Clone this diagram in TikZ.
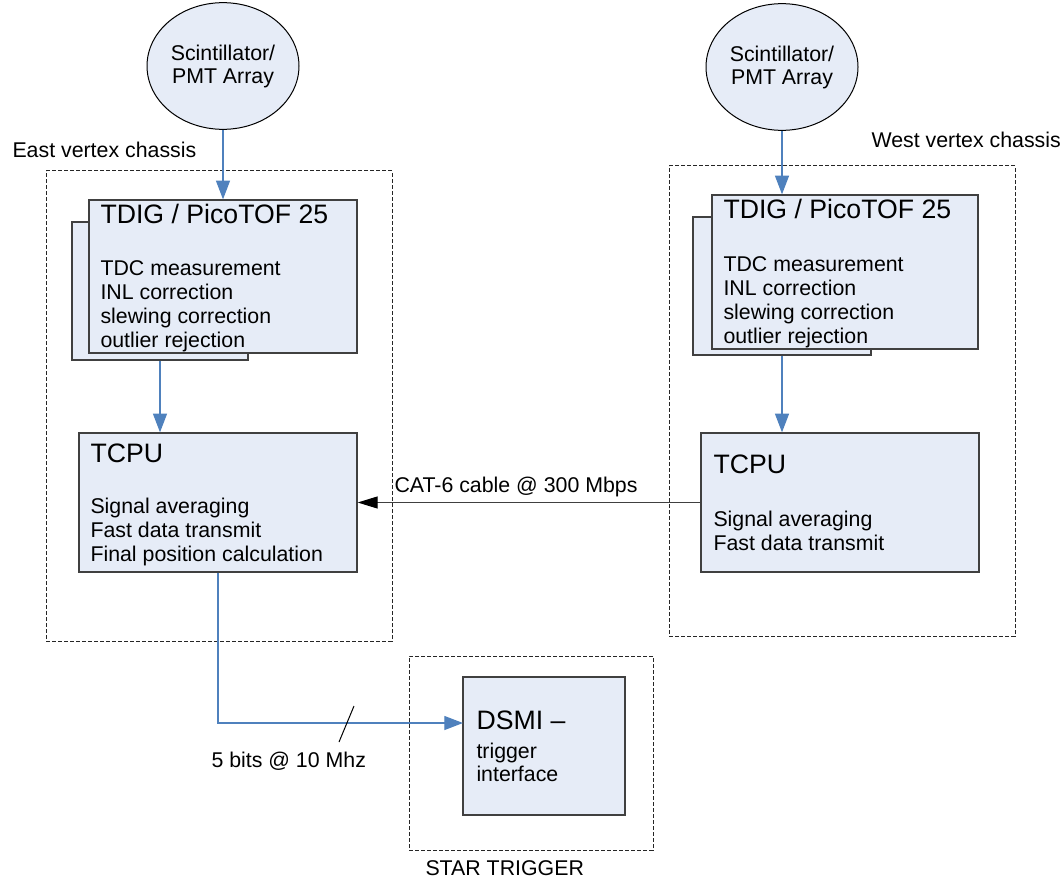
\documentclass[tikz,border=0pt]{standalone}
\usepackage{fontspec}
\setmainfont{Liberation Sans}
\usetikzlibrary{arrows.meta,fit,shapes.geometric}

\definecolor{boxfill}{RGB}{230,236,247}
\definecolor{boxline}{RGB}{64,64,64}
\definecolor{linkblue}{RGB}{79,129,189}

\tikzset{every picture/.style={line width=0.75pt}}
\tikzset{
  blockbox/.style={draw=boxline,fill=boxfill,line width=1pt,inner sep=0pt},
  chassis/.style={draw=black!85,dash pattern=on 3pt off 1.5pt,inner sep=0pt},
  sensor/.style={ellipse,draw=black,fill=boxfill,minimum width=114pt,minimum height=95pt,inner sep=0pt,align=center,font=\fontsize{16}{17.25}\selectfont},
  titletxt/.style={anchor=base west,inner sep=0pt,font=\fontsize{20}{24}\selectfont},
  bodytxt/.style={anchor=north west,inner sep=0pt,align=left,font=\fontsize{16}{18}\selectfont},
  labeltxt/.style={anchor=base west,inner sep=0pt,font=\fontsize{16}{18}\selectfont},
  bluelink/.style={draw=linkblue,line width=0.9pt,-{Triangle[length=14pt,width=10.5pt]}},
  cablelink/.style={draw=boxline,line width=0.9pt,-{Triangle[length=15pt,width=9pt,color=black]}}
}

\begin{document}
\begin{tikzpicture}[x=0.75pt,y=0.75pt,yscale=-1,xscale=1]
\useasboundingbox (0,0) rectangle (1063,888);

%Shape: Dashed chassis
\node[chassis, fit={(46,171)(392,641)}] (eastChassis) {};
\node[chassis, fit={(669,166)(1015,636)}] (westChassis) {};
\node[chassis, fit={(409,656)(653,850)}] (starChassis) {};

%Shape: Ellipse
\node[sensor] (sciE) at (223,66) {Scintillator/\\PMT Array};
\node[sensor] (sciW) at (782,67) {Scintillator/\\PMT Array};

%Shape: Rectangle (stacked boards)
\node[blockbox, fit={(72,222)(248,360)}] (tdigEback) {};
\node[blockbox, fit={(89,200)(357,353)}] (tdigE) {};
\node[blockbox, fit={(693,217)(871,355)}] (tdigWback) {};
\node[blockbox, fit={(712,195)(978,349)}] (tdigW) {};
%Shape: Rectangle
\node[blockbox, fit={(79,433)(357,572)}] (tcpuE) {};
\node[blockbox, fit={(701,433)(979,572)}] (tcpuW) {};
\node[blockbox, fit={(463,677)(625,815)}] (dsmi) {};

%Straight Lines
\draw[bluelink] (sciE.south) -- (tdigE.north);
\draw[bluelink] (sciW.south) -- (sciW.south |- tdigW.north);
\draw[bluelink] (tdigEback.south) -- (tdigEback.south |- tcpuE.north);
\draw[bluelink] (tdigWback.south) -- (tdigWback.south |- tcpuW.north);
\draw[cablelink] (tcpuW.west) -- (tcpuE.east);
\coordinate (dsmiIn) at (463,723);
\draw[bluelink] (tcpuE.south) |- (dsmiIn);
%Straight Lines (bus mark)
\draw (339,742) -- (354,706);

% Text Node
\node[titletxt] (tdigEtitle) at (100,223) {TDIG / PicoTOF 25};
% Text Node
\node[bodytxt] (tdigEbody) at (100,260) {TDC measurement\\INL correction\\slewing correction\\outlier rejection};
% Text Node
\node[titletxt] (tdigWtitle) at (723,219) {TDIG / PicoTOF 25};
% Text Node
\node[bodytxt] (tdigWbody) at (723,256) {TDC measurement\\INL correction\\slewing correction\\outlier rejection};
% Text Node
\node[titletxt] (tcpuEtitle) at (90,462) {TCPU};
% Text Node
\node[bodytxt] (tcpuEbody) at (90,498) {Signal averaging\\Fast data transmit\\Final position calculation};
% Text Node
\node[titletxt] (tcpuWtitle) at (713,473) {TCPU};
% Text Node
\node[bodytxt] (tcpuWbody) at (713,511) {Signal averaging\\Fast data transmit};
% Text Node
\node[titletxt] (dsmiTitle) at (476,729) {DSMI –};
% Text Node
\node[bodytxt, font=\fontsize{16}{17.25}\selectfont] (dsmiBody) at (476,743) {trigger\\interface};
% Text Node
\node[labeltxt] (eastLabel) at (12,157) {East vertex chassis};
% Text Node
\node[labeltxt] (westLabel) at (871,148) {West vertex chassis};
% Text Node
\node[labeltxt] (starLabel) at (425,875) {STAR TRIGGER};
% Text Node
\node[labeltxt] (cableLabel) at (394,492) {CAT-6 cable @ 300 Mbps};
% Text Node
\node[labeltxt] (busLabel) at (211,767) {5 bits @ 10 Mhz};

\end{tikzpicture}
\end{document}
